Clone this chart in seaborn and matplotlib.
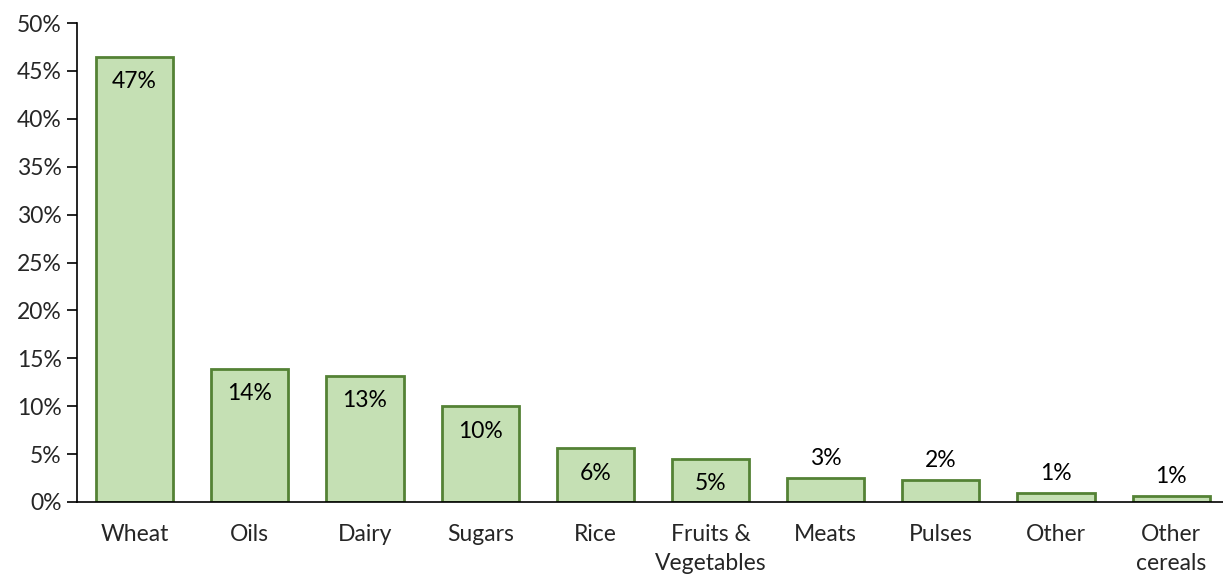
import numpy as np
import pandas as pd
import matplotlib
matplotlib.use("Agg")
import matplotlib.pyplot as plt
import seaborn as sns

categories = ["Wheat", "Oils", "Dairy", "Sugars", "Rice", "Fruits &\nVegetables",
              "Meats", "Pulses", "Other", "Other\ncereals"]
shares = [46.5, 13.9, 13.2, 10.0, 5.6, 4.5, 2.5, 2.3, 0.95, 0.6]
labels = ["47%", "14%", "13%", "10%", "6%", "5%", "3%", "2%", "1%", "1%"]
inside = [True, True, True, True, True, True, False, False, False, False]

sns.set_theme(style="white")
plt.rcParams["font.family"] = ["Lato", "DejaVu Sans"]

df = pd.DataFrame({"category": categories, "share": shares})

fig = plt.figure(figsize=(12.23, 5.77), dpi=100)
ax = fig.add_axes([0.063, 0.130, 0.937, 0.830])

sns.barplot(data=df, x="category", y="share", ax=ax, color="#C5E0B4",
            edgecolor="#548235", linewidth=2, width=0.67, saturation=1)

for i, (v, lab, ins) in enumerate(zip(shares, labels, inside)):
    offset = -18 if ins else 14
    ax.annotate(lab, (i, v), xytext=(0, offset), textcoords="offset points",
                ha="center", va="center", fontsize=16.5, color="black")

ax.set_ylim(0, 50)
ax.set_xlim(-0.5, 9.45)
ax.set_yticks(np.arange(0, 51, 5))
ax.set_yticklabels([f"{t}%" for t in range(0, 51, 5)], fontsize=16.5)
for t in ax.get_xticklabels():
    t.set_linespacing(1.45)
ax.tick_params(axis="x", length=0, labelsize=16.5, pad=16)
ax.tick_params(axis="y", length=7, width=1.2, direction="out", left=True, color="black", pad=4)
ax.set_xlabel("")
ax.set_ylabel("")
for s in ["top", "right"]:
    ax.spines[s].set_visible(False)
for s in ["left", "bottom"]:
    ax.spines[s].set_color("black")
    ax.spines[s].set_linewidth(1.2)

fig.savefig("out.png", dpi=100, facecolor="white")
